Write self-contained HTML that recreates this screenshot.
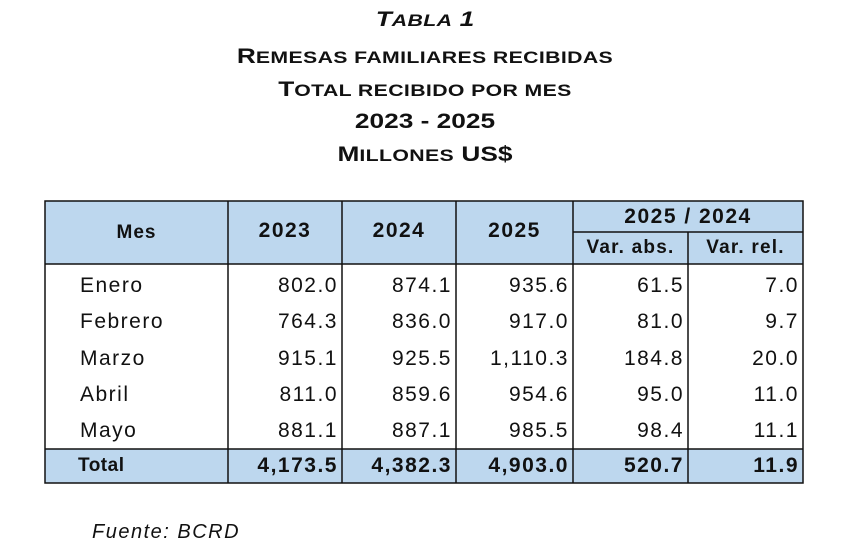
<!DOCTYPE html>
<html><head><style>
body{margin:0;width:850px;height:556px;background:#fff;font-family:"Liberation Sans",Arial,sans-serif;position:relative;overflow:hidden;color:#111}
.t{position:absolute;left:0;width:850px;text-align:center;font-weight:bold;font-size:21px;line-height:24px;transform:scaleX(1.25);transform-origin:425px 0}
.t span{font-size:17px;letter-spacing:0.3px}
.c{position:absolute;font-size:21px;line-height:24px;letter-spacing:1.5px}
.r{text-align:right}
</style></head><body>
<div class="t" style="top:8px;font-style:italic">T<span>ABLA</span> 1</div>
<div class="t" style="top:45px">R<span>EMESAS FAMILIARES RECIBIDAS</span></div>
<div class="t" style="top:78px">T<span>OTAL RECIBIDO POR MES</span></div>
<div class="t" style="top:110px">2023 - 2025</div>
<div class="t" style="top:143px">M<span>ILLONES</span> US$</div>
<svg width="850" height="556" style="position:absolute;left:0;top:0">
<rect x="45" y="201" width="758" height="63" fill="#bdd7ee"/>
<rect x="45" y="449" width="758" height="34" fill="#bdd7ee"/>
<g stroke="#111" stroke-width="1.5" fill="none">
<rect x="45" y="201" width="758" height="282"/>
<line x1="45" y1="264" x2="803" y2="264"/>
<line x1="45" y1="449" x2="803" y2="449"/>
<line x1="573" y1="232" x2="803" y2="232"/>
<line x1="228" y1="201" x2="228" y2="483"/>
<line x1="342" y1="201" x2="342" y2="483"/>
<line x1="456" y1="201" x2="456" y2="483"/>
<line x1="573" y1="201" x2="573" y2="483"/>
<line x1="688" y1="232" x2="688" y2="483"/>
</g></svg>
<div class="c" style="left:45px;width:183px;top:221px;text-align:center;font-weight:bold;font-size:19px;letter-spacing:1px">Mes</div>
<div class="c" style="left:228px;width:114px;top:219px;text-align:center;font-weight:bold">2023</div>
<div class="c" style="left:342px;width:114px;top:219px;text-align:center;font-weight:bold">2024</div>
<div class="c" style="left:456px;width:117px;top:219px;text-align:center;font-weight:bold">2025</div>
<div class="c" style="left:573px;width:230px;top:205px;text-align:center;font-weight:bold">2025 / 2024</div>
<div class="c" style="left:573px;width:115px;top:236px;text-align:center;font-weight:bold;font-size:19px;letter-spacing:1.2px">Var. abs.</div>
<div class="c" style="left:688px;width:115px;top:236px;text-align:center;font-weight:bold;font-size:19px;letter-spacing:1.2px">Var. rel.</div>
<div id="rows"></div>
<script>
var d=[["Enero","802.0","874.1","935.6","61.5","7.0"],["Febrero","764.3","836.0","917.0","81.0","9.7"],["Marzo","915.1","925.5","1,110.3","184.8","20.0"],["Abril","811.0","859.6","954.6","95.0","11.0"],["Mayo","881.1","887.1","985.5","98.4","11.1"],["Total","4,173.5","4,382.3","4,903.0","520.7","11.9"]];
var R=[228,342,456,573,688,803],h="";
d.forEach(function(r,i){var y=i<5?274+i*36.3:454;var b=i==5?"font-weight:bold;":"";
h+='<div class="c" style="'+b+'left:'+(i==5?78:80)+'px;top:'+y+'px;'+(i==5?'font-size:19px;letter-spacing:0.5px':'')+'">'+r[0]+'</div>';
for(var j=1;j<6;j++)h+='<div class="c r" style="'+b+'left:'+(R[j-1])+'px;width:'+(R[j]-R[j-1]-4)+'px;top:'+y+'px">'+r[j]+'</div>';});
document.getElementById("rows").innerHTML=h;
</script>
<div class="c" style="left:92px;top:520px;font-style:italic;font-size:20px">Fuente: BCRD</div>
</body></html>
